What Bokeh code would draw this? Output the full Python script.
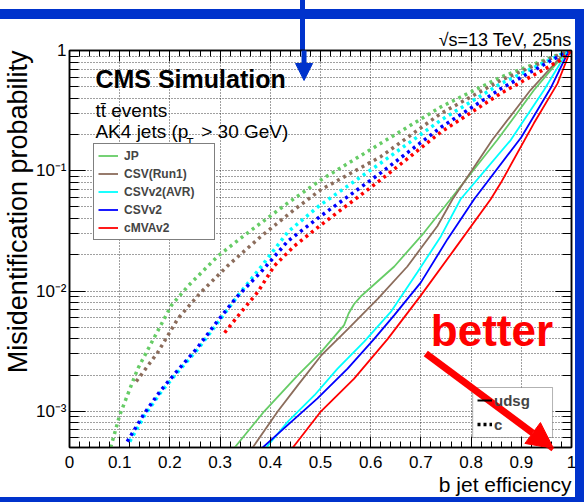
import numpy as np
from bokeh.plotting import figure
from bokeh.models import (FixedTicker, LinearAxis, LogAxis, Legend, LegendItem, Label, Title,
                          Arrow, NormalHead, BoxAnnotation, Range1d)
from bokeh.embed import file_html
from bokeh.resources import INLINE

# ---------------- data: b-tagging performance (misid. prob. vs b efficiency) ----------------
taggers = ["JP", "CSV(Run1)", "CSVv2(AVR)", "CSVv2", "cMVAv2"]
colors = ["#66cc66", "#8c6d5c", "#00ffff", "#0000ff", "#ff0000"]

# light-flavour (udsg) jets
jp_udsg_eff = [0.329, 0.388, 0.455, 0.501, 0.547, 0.556, 0.567, 0.580, 0.647, 0.706, 0.759, 0.852, 0.925, 0.992]
jp_udsg_mis = [5.0e-4, 1.0e-3, 2.0e-3, 3.1e-3, 5.2e-3, 6.5e-3, 7.8e-3, 9.0e-3, 1.6e-2, 3.05e-2, 5.8e-2, 0.18, 0.467, 1.0]

csv1_udsg_eff = [0.365, 0.415, 0.455, 0.501, 0.554, 0.614, 0.673, 0.733, 0.763, 0.842, 0.918, 0.990]
csv1_udsg_mis = [5.0e-4, 1.0e-3, 1.65e-3, 2.9e-3, 4.8e-3, 8.6e-3, 1.6e-2, 3.47e-2, 5.8e-2, 0.18, 0.467, 1.0]

avr_udsg_eff = [0.392, 0.435, 0.488, 0.534, 0.587, 0.640, 0.693, 0.740, 0.779, 0.879, 0.945, 0.993]
avr_udsg_mis = [5.0e-4, 8.2e-4, 1.36e-3, 2.26e-3, 3.8e-3, 6.7e-3, 1.43e-2, 2.86e-2, 5.8e-2, 0.18, 0.467, 1.0]

csv2_udsg_eff = [0.385, 0.435, 0.494, 0.554, 0.607, 0.647, 0.700, 0.753, 0.806, 0.900, 0.960, 0.995]
csv2_udsg_mis = [5.0e-4, 7.7e-4, 1.28e-3, 2.26e-3, 4.0e-3, 6.3e-3, 1.18e-2, 2.7e-2, 5.8e-2, 0.19, 0.50, 1.0]

cmva_udsg_eff = [0.445, 0.501, 0.567, 0.634, 0.700, 0.766, 0.839, 0.859, 0.925, 0.972, 0.998]
cmva_udsg_mis = [5.0e-4, 1.0e-3, 1.87e-3, 4.0e-3, 9.2e-3, 2.2e-2, 5.8e-2, 7.9e-2, 0.248, 0.53, 1.0]

# charm jets
jp_c_eff = [0.082, 0.100, 0.136, 0.160, 0.203, 0.236, 0.296, 0.355, 0.435, 0.501, 0.620, 0.740, 0.859, 0.995]
jp_c_mis = [5.0e-4, 9.3e-4, 2.26e-3, 3.5e-3, 7.6e-3, 1.1e-2, 1.96e-2, 3.05e-2, 5.4e-2, 8.4e-2, 0.169, 0.34, 0.60, 1.0]

csv1_c_eff = [0.133, 0.176, 0.216, 0.262, 0.315, 0.382, 0.448, 0.501, 0.620, 0.740, 0.859, 0.995]
csv1_c_mis = [1.77e-3, 3.1e-3, 5.9e-3, 9.8e-3, 1.62e-2, 2.86e-2, 4.76e-2, 6.97e-2, 0.131, 0.30, 0.565, 1.0]

avr_c_eff = [0.120, 0.150, 0.183, 0.216, 0.256, 0.296, 0.335, 0.382, 0.435, 0.497, 0.620, 0.740, 0.859, 0.995]
avr_c_mis = [5.6e-4, 9.3e-4, 1.46e-3, 2.13e-3, 3.3e-3, 5.5e-3, 9.1e-3, 1.6e-2, 3.1e-2, 5.1e-2, 0.116, 0.264, 0.53, 1.0]

csv2_c_eff = [0.115, 0.147, 0.180, 0.213, 0.253, 0.293, 0.333, 0.382, 0.435, 0.497, 0.620, 0.740, 0.859, 0.995]
csv2_c_mis = [5.6e-4, 9.3e-4, 1.46e-3, 2.13e-3, 3.3e-3, 5.5e-3, 8.9e-3, 1.45e-2, 2.6e-2, 4.1e-2, 9.6e-2, 0.23, 0.48, 1.0]

cmva_c_eff = [0.309, 0.342, 0.375, 0.408, 0.448, 0.498, 0.620, 0.740, 0.859, 0.978, 1.0]
cmva_c_mis = [4.5e-3, 6.7e-3, 9.8e-3, 1.62e-2, 2.37e-2, 3.47e-2, 8.4e-2, 0.21, 0.44, 0.83, 1.0]

udsg_curves = [(jp_udsg_eff, jp_udsg_mis), (csv1_udsg_eff, csv1_udsg_mis), (avr_udsg_eff, avr_udsg_mis),
               (csv2_udsg_eff, csv2_udsg_mis), (cmva_udsg_eff, cmva_udsg_mis)]
c_curves = [(jp_c_eff, jp_c_mis), (csv1_c_eff, csv1_c_mis), (avr_c_eff, avr_c_mis),
            (csv2_c_eff, csv2_c_mis), (cmva_c_eff, cmva_c_mis)]

x_ticks = [0.0, 0.1, 0.2, 0.3, 0.4, 0.5, 0.6, 0.7, 0.8, 0.9, 1.0]
x_tick_labels = ["0", "0.1", "0.2", "0.3", "0.4", "0.5", "0.6", "0.7", "0.8", "0.9", "1"]
y_ticks = [1e-3, 1e-2, 1e-1, 1.0]
y_tick_labels = ["10⁻³", "10⁻²", "10⁻¹", "1"]

# ---------------- canvas geometry ----------------
W, H = 584, 502
FL, FT, FR, FB = 68, 50, 571, 447          # frame edges in canvas pixels
XR = (0.0, 1.0)
YR = (5e-4, 1.0)
FONT = "Liberation Sans"
BLUE = "#0033cc"


def cx(px):
    """canvas pixel column -> data x"""
    return XR[0] + (px - FL) / (FR - FL) * (XR[1] - XR[0])


def cy(py):
    """canvas pixel row -> data y (log axis)"""
    lo, hi = np.log10(YR[0]), np.log10(YR[1])
    return 10 ** (hi - (py - FT) / (FB - FT) * (hi - lo))


p = figure(width=W, height=H, x_range=Range1d(*XR), y_range=Range1d(*YR), y_axis_type="log",
           output_backend="svg", toolbar_location=None,
           min_border_left=FL, min_border_right=W - FR, min_border_top=FT, min_border_bottom=H - FB)
p.background_fill_color = "white"
p.border_fill_color = None
p.outline_line_color = "black"
p.outline_line_width = 1.5

# slide frame (blue bars) and the stem of the pointer arrow, painted behind the canvas
bar = f"linear-gradient({BLUE},{BLUE})"
p.styles = {
    "background": (f"{bar} 0px 9px / {W}px 10px no-repeat, "
                   f"{bar} 575px 9px / 9px {H}px no-repeat, "
                   f"{bar} 0px 497px / {W}px 5px no-repeat, "
                   f"{bar} 300px 0px / 5px {FT}px no-repeat, white"),
}

x_minor = [round(i * 0.02, 2) for i in range(51) if i % 5]
y_minor = [m * 10.0 ** e for e in (-4, -3, -2, -1) for m in range(2, 10) if 5e-4 < m * 10.0 ** e < 1.0]
xticker = FixedTicker(ticks=x_ticks, minor_ticks=x_minor)
yticker = FixedTicker(ticks=y_ticks, minor_ticks=y_minor)


def style_axis(ax, major_in, minor_in):
    ax.axis_line_color = "black"
    ax.axis_line_width = 1.5
    ax.major_tick_line_color = "black"
    ax.minor_tick_line_color = "black"
    ax.major_tick_in = major_in
    ax.major_tick_out = 0
    ax.minor_tick_in = minor_in
    ax.minor_tick_out = 0


xa = p.xaxis[0]
xa.ticker = xticker
xa.major_label_overrides = dict(zip(x_ticks, x_tick_labels))
xa.major_label_text_font = FONT
xa.major_label_text_font_size = "17px"
xa.major_label_text_color = "black"
xa.major_label_standoff = 8
style_axis(xa, 11, 6)

ya = p.yaxis[0]
ya.ticker = yticker
ya.major_label_overrides = dict(zip(y_ticks, y_tick_labels))
ya.major_label_text_font = FONT
ya.major_label_text_font_size = "17px"
ya.major_label_text_color = "black"
ya.major_label_standoff = 3
style_axis(ya, 16, 9)

# tick marks on the opposite sides of the frame, without numbers
top_ax = LinearAxis(ticker=xticker, major_label_text_font_size="1px", major_label_text_alpha=0,
                    major_label_standoff=0)
style_axis(top_ax, 11, 6)
p.add_layout(top_ax, "above")
right_ax = LogAxis(ticker=yticker, major_label_text_font_size="1px", major_label_text_alpha=0,
                   major_label_standoff=0)
style_axis(right_ax, 16, 9)
p.add_layout(right_ax, "right")

for g in (p.xgrid[0], p.ygrid[0]):
    g.grid_line_color = "black"
    g.grid_line_dash = "1 2"
    g.grid_line_alpha = 0.75
p.ygrid[0].minor_grid_line_color = "black"
p.ygrid[0].minor_grid_line_dash = "1 2"
p.ygrid[0].minor_grid_line_alpha = 0.75

# ---------------- axis titles and energy label ----------------
p.title.text = "\u221as=13 TeV, 25ns"
p.title.align = "right"
p.title.text_font = FONT
p.title.text_font_style = "normal"
p.title.text_font_size = "18px"
p.title.text_color = "black"
p.title.standoff = 2

p.add_layout(Title(text="b jet efficiency", align="right", text_font=FONT, text_font_style="normal",
                   text_color="black", text_font_size="21px", standoff=0), "below")
p.add_layout(Title(text="Misidentification probability", align="right", text_font=FONT,
                   text_font_style="normal", text_color="black", text_font_size="27px", standoff=0), "left")

# ---------------- curves ----------------
solid_renderers = []
for (eff, mis), col in zip(udsg_curves, colors):
    solid_renderers.append(p.line(eff, mis, line_color=col, line_width=1.8))
for (eff, mis), col in zip(c_curves, colors):
    p.line(eff, mis, line_color=col, line_width=3.5, line_dash="3 4")

# ---------------- legends ----------------
leg1 = Legend(items=[LegendItem(label=t, renderers=[r]) for t, r in zip(taggers, solid_renderers)],
              location=(92 - FL, FB - 240), orientation="vertical",
              border_line_color="black", border_line_width=1, background_fill_alpha=1,
              label_text_font=FONT, label_text_font_style="bold", label_text_font_size="12px",
              glyph_width=20, glyph_height=15, label_height=15, label_standoff=6,
              label_width=86, spacing=3, padding=4, margin=0)
p.add_layout(leg1, "center")

# flavour key: boxed white panel drawn below the arrow, entries drawn on top of it
p.add_layout(BoxAnnotation(left=cx(472), right=cx(552), top=cy(387), bottom=cy(437),
                           fill_color="white", fill_alpha=1.0, line_color="black", line_width=1,
                           level="glyph"))
udsg_key = p.line([0.5], [1e-5], line_color="black", line_width=2)
c_key = p.line([0.5], [1e-5], line_color="black", line_width=3.5, line_dash="3 3")
leg2 = Legend(items=[LegendItem(label="udsg", renderers=[udsg_key]), LegendItem(label="c", renderers=[c_key])],
              location=(472 - FL, FB - 437), orientation="vertical",
              border_line_alpha=0, background_fill_alpha=0,
              label_text_font=FONT, label_text_font_style="bold", label_text_font_size="15px",
              glyph_width=15, glyph_height=18, label_height=18, label_standoff=2,
              label_width=54, spacing=6, padding=4, margin=0)
p.add_layout(leg2, "center")


# ---------------- texts inside the frame ----------------
def add_label(px, py, text, size, **kw):
    opts = dict(text_font=FONT, text_font_size=f"{size}px", text_color="black",
                text_baseline="alphabetic", text_align="left")
    opts.update(kw)
    p.add_layout(Label(x=cx(px), y=cy(py), text=text, **opts))


add_label(94, 78, "CMS Simulation", 25, text_font_style="bold")
add_label(94, 110, "tt\u0304 events", 19)
add_label(94, 131, "AK4 jets (p", 19)
add_label(185, 142, "T", 12)
add_label(200, 131, "> 30 GeV)", 19)
add_label(430, 330, "better", 44, text_font_style="bold", text_color="#ff0000")

# ---------------- arrows ----------------
p.add_layout(Arrow(x_start=cx(425), y_start=cy(353), x_end=cx(553), y_end=cy(448),
                   line_color="#ff0000", line_width=7, level="overlay",
                   end=NormalHead(size=26, fill_color="#ff0000", line_color="#ff0000")))
p.add_layout(Arrow(x_start=cx(303), y_start=cy(30), x_end=cx(303), y_end=cy(80),
                   line_color=BLUE, line_width=5, level="overlay",
                   end=NormalHead(size=17, fill_color=BLUE, line_color=BLUE)))

open("out.html", "w").write(file_html(p, INLINE))
